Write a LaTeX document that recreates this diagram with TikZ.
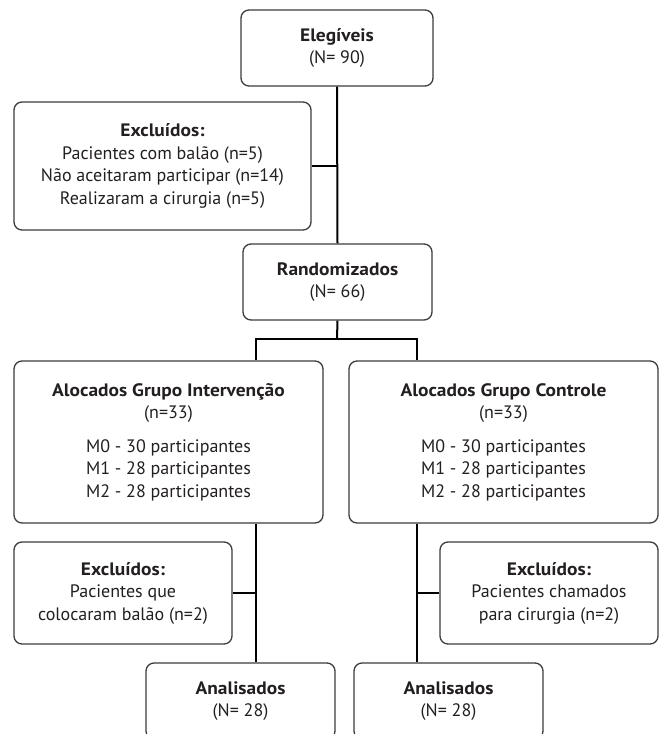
\documentclass[tikz,border=0pt]{standalone}
\usepackage{fontspec}
\setmainfont{PT Sans}[BoldFeatures={FakeStretch=1.08}]
\definecolor{boxline}{HTML}{3C3C3C}
\definecolor{txt}{HTML}{231F20}
\tikzset{
  flowbox/.style={draw=boxline, line width=1.3pt, rounded corners=8pt, rectangle,
    inner sep=0pt, align=center, text=txt,
    font=\fontsize{18}{22.5}\selectfont},
  link/.style={draw=black, line width=2pt},
}
\begin{document}
\begin{tikzpicture}[x=1pt,y=-1pt]
\useasboundingbox (0,0) rectangle (662,734);
\clip (0,0) rectangle (662,734);

\node[flowbox, minimum width=192pt, minimum height=76pt] (eleg) at (337,48)
  {\textbf{Elegíveis}\\(N= 90)};
\node[flowbox, minimum width=297pt, minimum height=128pt] (exc1) at (162.5,166)
  {\textbf{Excluídos:}\\Pacientes com balão (n=5)\\Não aceitaram participar (n=14)\\Realizaram a cirurgia (n=5)};
\node[flowbox, minimum width=189pt, minimum height=76pt] (rand) at (337.5,282)
  {\textbf{Randomizados}\\(N= 66)};
\node[flowbox, minimum width=309pt, minimum height=162pt] (gint) at (168.5,442)
  {\textbf{Alocados Grupo Intervenção}\\(n=33)\\[11pt]M0 - 30 participantes\\M1 - 28 participantes\\M2 - 28 participantes};
\node[flowbox, minimum width=309pt, minimum height=162pt] (gcon) at (503.5,442)
  {\textbf{Alocados Grupo Controle}\\(n=33)\\[11pt]M0 - 30 participantes\\M1 - 28 participantes\\M2 - 28 participantes};
\node[flowbox, minimum width=218pt, minimum height=102pt] (exc2) at (123,593)
  {\textbf{Excluídos:}\\Pacientes que\\colocaram balão (n=2)};
\node[flowbox, minimum width=218pt, minimum height=102pt] (exc3) at (549,593)
  {\textbf{Excluídos:}\\Pacientes chamados\\para cirurgia (n=2)};
\node[flowbox, minimum width=189pt, minimum height=76pt] (ana1) at (240.5,701)
  {\textbf{Analisados}\\(N= 28)};
\node[flowbox, minimum width=189pt, minimum height=76pt] (ana2) at (448.5,701)
  {\textbf{Analisados}\\(N= 28)};

\coordinate (j1) at (337,166);
\coordinate (split) at (337,339);
\coordinate (sl) at (256,339);
\coordinate (sr) at (417,339);
\coordinate (j2) at (256,593);
\coordinate (j3) at (417,593);

\draw[link] (eleg.south) -- (rand.north);
\draw[link] (exc1.east) -- (j1);
\draw[link] (rand.south) -- (split);
\draw[link] (sl |- gint.north) -- (sl) -- (sr) -- (sr |- gcon.north);
\draw[link] (sl |- gint.south) -- (sl |- ana1.north);
\draw[link] (sr |- gcon.south) -- (sr |- ana2.north);
\draw[link] (exc2.east) -- (j2);
\draw[link] (exc3.west) -- (j3);
\end{tikzpicture}
\end{document}
